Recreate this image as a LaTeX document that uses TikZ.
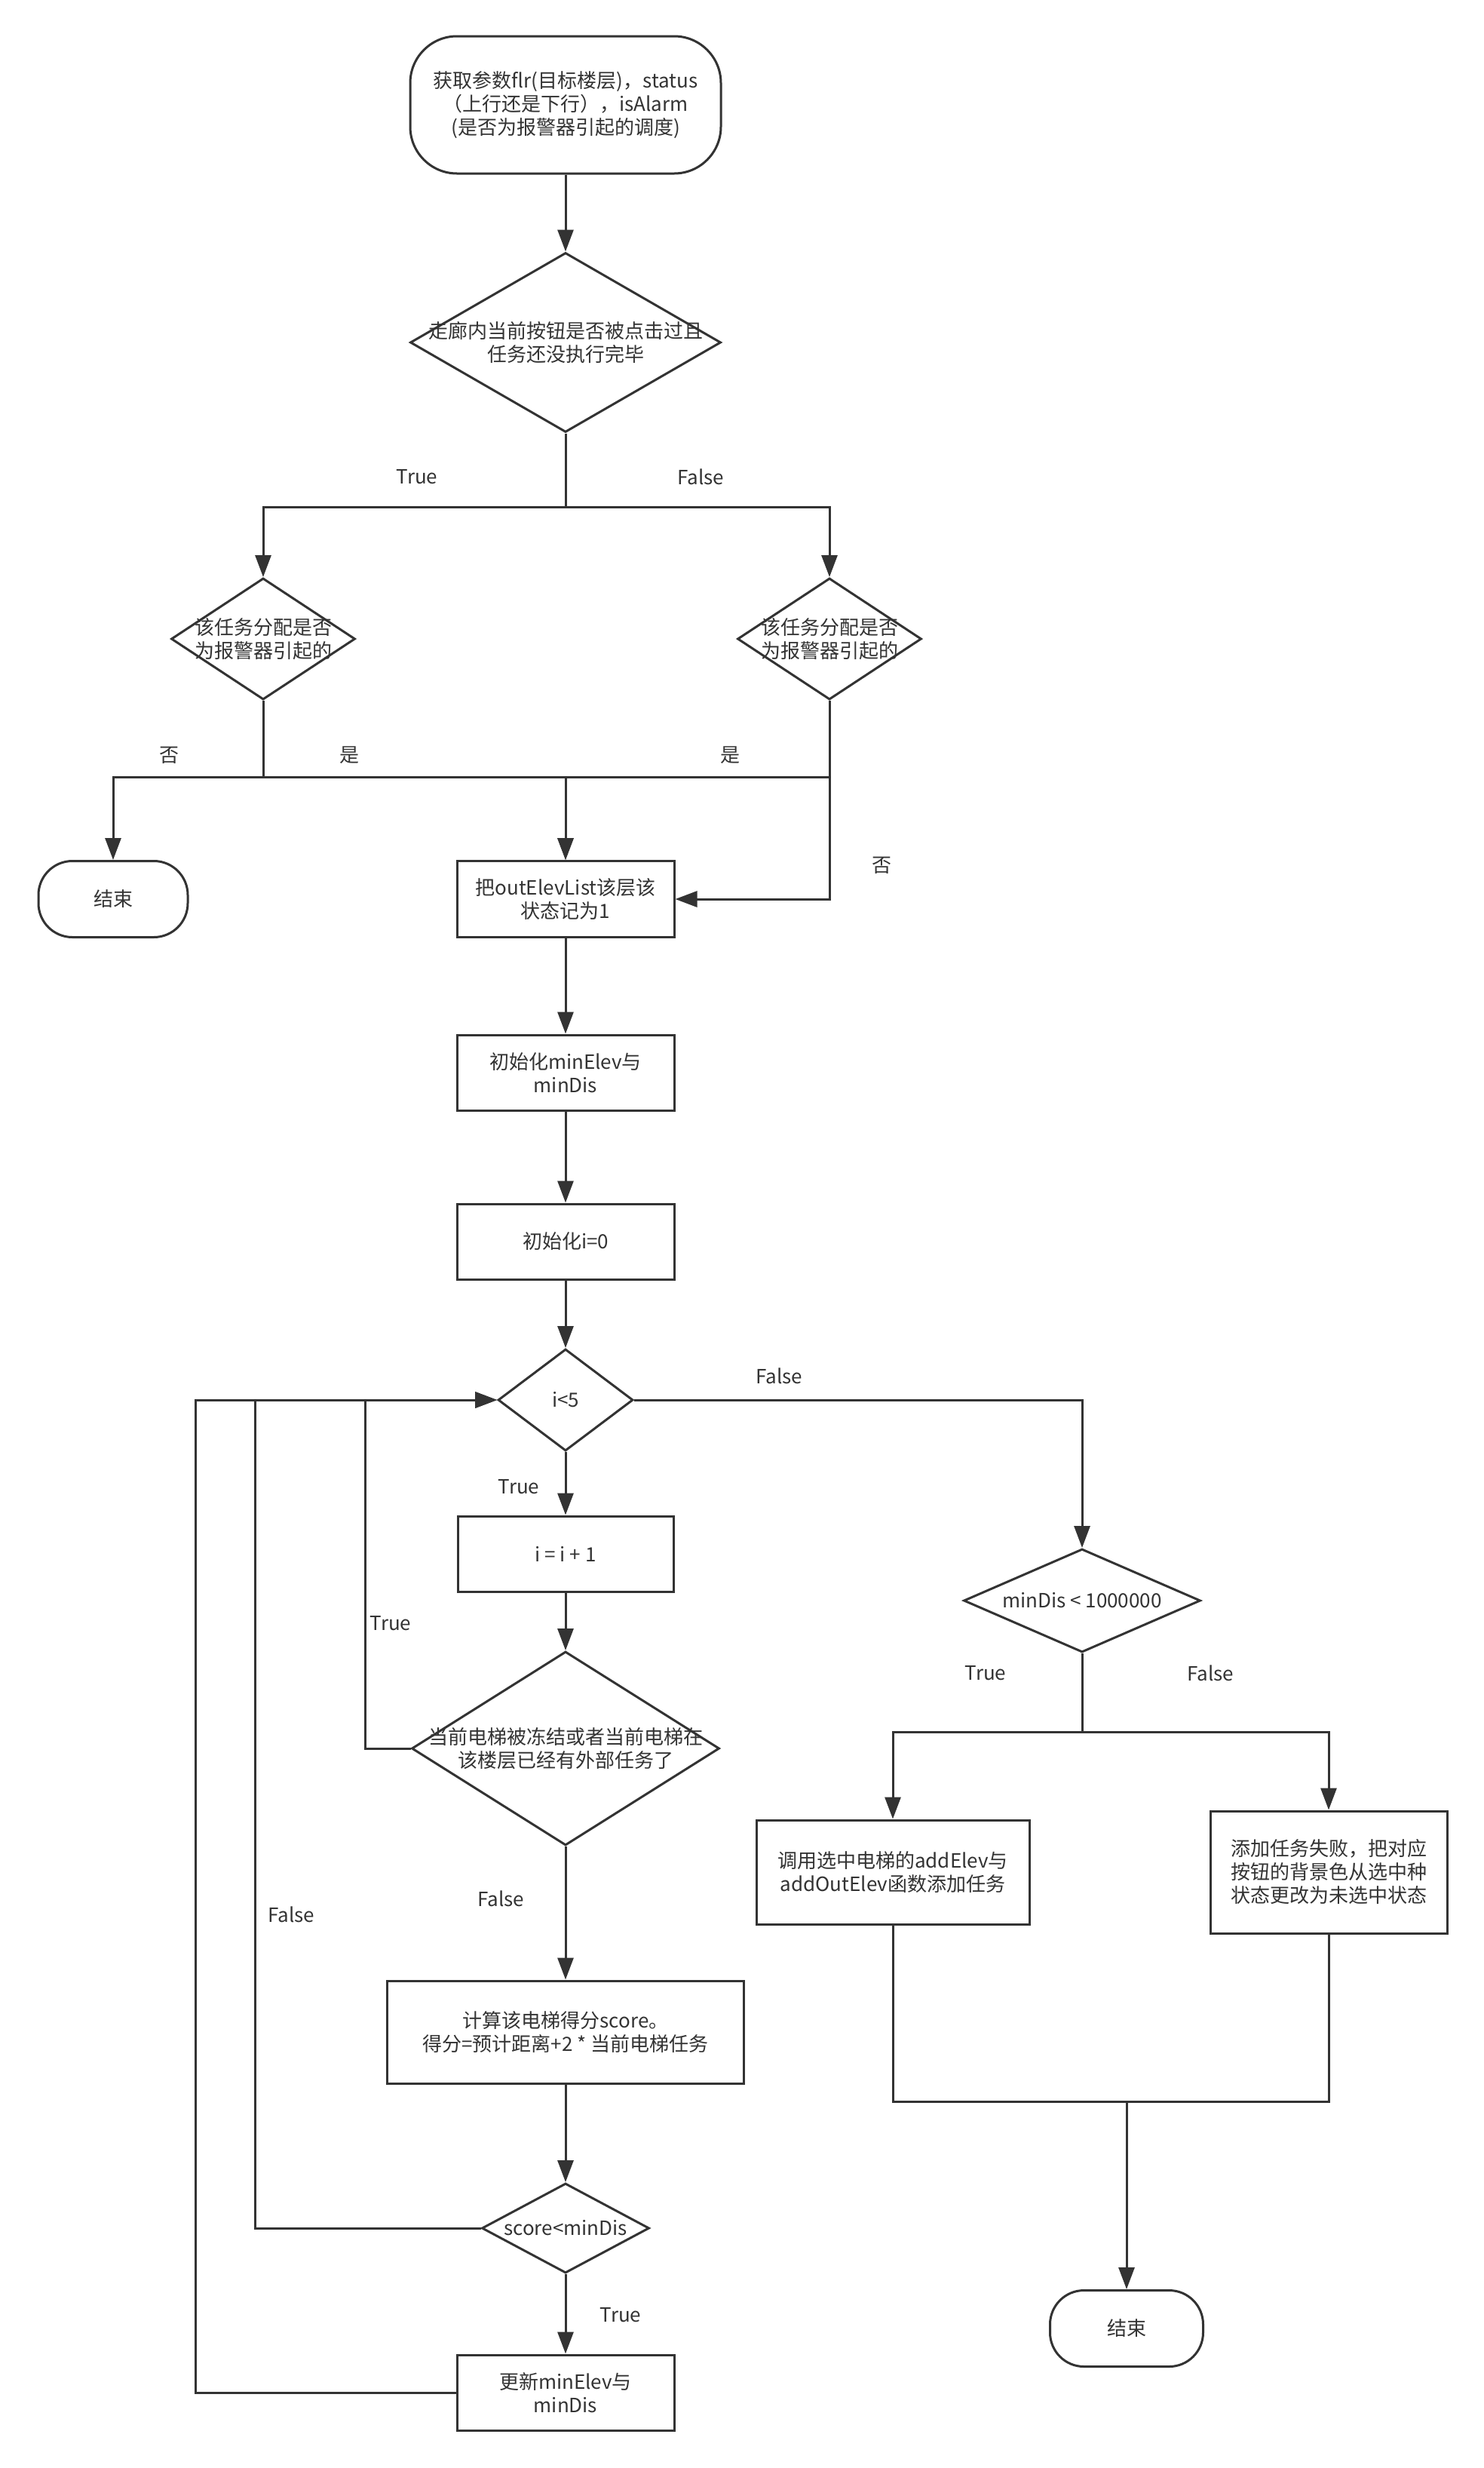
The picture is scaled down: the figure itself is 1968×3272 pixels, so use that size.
\documentclass[tikz,border=0pt]{standalone}
\usepackage{fontspec}
\newfontfamily\cjkfont{Noto Sans CJK SC}
\usepackage{xcolor}
\definecolor{lineGray}{HTML}{333333}
\usepackage{tikz}
\usetikzlibrary{shapes.geometric, arrows.meta, positioning}

\begin{document}
\begin{tikzpicture}[
        x=1pt, y=-1pt,
        >={Triangle[length=29pt, width=21pt]},
        baseNode/.style={
            draw=lineGray,
            line width=3pt,
            font=\cjkfont\fontsize{26}{31}\selectfont,
            text=lineGray,
            align=center,
            inner sep=0pt
        },
        termNode/.style={baseNode, rectangle, rounded corners=45pt},
        procNode/.style={baseNode, rectangle},
        decNode/.style={baseNode, diamond, inner sep=-150pt},
        flowArrow/.style={
            ->,
            line width=3pt,
            lineGray
        },
        flowLine/.style={
            line width=3pt,
            lineGray
        },
        labelText/.style={
            font=\cjkfont\fontsize{26}{31}\selectfont,
            text=lineGray
        }
    ]
    \fill[white] (0,0) rectangle (1968,3272);
    \useasboundingbox (0,0) rectangle (1968,3272);

    % Start and the first checks
    \node[termNode, rounded corners=62pt, minimum width=412pt, minimum height=182pt] (start) at (750,139)
        {获取参数flr(目标楼层)，status\\（上行还是下行），isAlarm\\(是否为报警器引起的调度)};
    \node[decNode, minimum width=412pt, minimum height=238pt] (checkBtn) at (750,454)
        {走廊内当前按钮是否被点击过且\\任务还没执行完毕};
    \node[decNode, minimum width=244pt, minimum height=161pt] (alarmTrue) at (349,847)
        {该任务分配是否\\为报警器引起的};
    \node[decNode, minimum width=244pt, minimum height=161pt] (alarmFalse) at (1100,847)
        {该任务分配是否\\为报警器引起的};
    \node[termNode, minimum width=198pt, minimum height=101pt] (endLeft) at (150,1192) {结束};

    % Main column
    \node[procNode, minimum width=288pt, minimum height=101pt] (markList) at (750,1192)
        {把outElevList该层该\\状态记为1};
    \node[procNode, minimum width=288pt, minimum height=100pt] (initMin) at (750,1422)
        {初始化minElev与\\minDis};
    \node[procNode, minimum width=288pt, minimum height=100pt] (initI) at (750,1646) {初始化i=0};
    \node[decNode, minimum width=179pt, minimum height=135pt] (loopCheck) at (750,1856) {i<5};
    \node[procNode, minimum width=286pt, minimum height=100pt] (incI) at (750,2060) {i = i + 1};
    \node[decNode, minimum width=408pt, minimum height=257pt] (frozenCheck) at (750,2318)
        {当前电梯被冻结或者当前电梯在\\该楼层已经有外部任务了};
    \node[procNode, minimum width=473pt, minimum height=136pt] (calcScore) at (750,2694)
        {计算该电梯得分score。\\得分=预计距离+2 * 当前电梯任务};
    \node[decNode, minimum width=222pt, minimum height=119pt] (scoreCheck) at (750,2954) {score<minDis};
    \node[procNode, minimum width=288pt, minimum height=100pt] (updateMin) at (750,3172)
        {更新minElev与\\minDis};

    % Right column
    \node[decNode, minimum width=314pt, minimum height=137pt] (disCheck) at (1435,2122) {minDis < 1000000};
    \node[procNode, minimum width=362pt, minimum height=138pt] (addTask) at (1184,2482)
        {调用选中电梯的addElev与\\addOutElev函数添加任务};
    \node[procNode, minimum width=314pt, minimum height=162pt] (failTask) at (1762,2482)
        {添加任务失败，把对应\\按钮的背景色从选中种\\状态更改为未选中状态};
    \node[termNode, minimum width=203pt, minimum height=101pt] (endRight) at (1494,3087) {结束};

    % Top branches
    \draw[flowArrow] (start) -- (checkBtn);
    \draw[flowArrow] (checkBtn.south) |- (alarmTrue.north |- 0,672) -- (alarmTrue.north);
    \draw[flowArrow] (checkBtn.south) |- (alarmFalse.north |- 0,672) -- (alarmFalse.north);
    \draw[flowArrow] (alarmTrue.south) |- (endLeft.north |- 0,1030) -- (endLeft.north);
    \draw[flowArrow] (alarmTrue.south) |- (markList.north |- 0,1030) -- (markList.north);
    \draw[flowArrow] (alarmFalse.south) |- (markList.north |- 0,1030) -- (markList.north);
    \draw[flowArrow] (alarmFalse.south) |- (markList.east);

    % Main chain
    \draw[flowArrow] (markList) -- (initMin);
    \draw[flowArrow] (initMin) -- (initI);
    \draw[flowArrow] (initI) -- (loopCheck);
    \draw[flowArrow] (loopCheck) -- (incI);
    \draw[flowArrow] (incI) -- (frozenCheck);
    \draw[flowArrow] (frozenCheck) -- (calcScore);
    \draw[flowArrow] (calcScore) -- (scoreCheck);
    \draw[flowArrow] (scoreCheck) -- (updateMin);

    % Loop back to i<5
    \draw[flowArrow] (frozenCheck.west) -| (loopCheck.west -| 484,0) -- (loopCheck.west);
    \draw[flowArrow] (scoreCheck.west) -| (loopCheck.west -| 338,0) -- (loopCheck.west);
    \draw[flowArrow] (updateMin.west) -| (loopCheck.west -| 259,0) -- (loopCheck.west);

    % Loop exit
    \draw[flowArrow] (loopCheck.east) -| (disCheck.north);
    \draw[flowArrow] (disCheck.south) |- (addTask.north |- 0,2296) -- (addTask.north);
    \draw[flowArrow] (disCheck.south) |- (failTask.north |- 0,2296) -- (failTask.north);
    \draw[flowLine] (addTask.south) |- (endRight.north |- 0,2786);
    \draw[flowArrow] (failTask.south) |- (endRight.north |- 0,2786) -- (endRight.north);

    % Branch labels
    \node[labelText] (lblTrueA) at (553,632) {True};
    \node[labelText] (lblFalseA) at (929,632) {False};
    \node[labelText] (lblNoA) at (224,1001) {否};
    \node[labelText] (lblYesA) at (463,1001) {是};
    \node[labelText] (lblYesB) at (968,1001) {是};
    \node[labelText] (lblNoB) at (1169,1147) {否};
    \node[labelText] (lblFalseB) at (1033,1824) {False};
    \node[labelText] (lblTrueB) at (688,1971) {True};
    \node[labelText] (lblTrueC) at (518,2152) {True};
    \node[labelText] (lblFalseC) at (664,2517) {False};
    \node[labelText] (lblFalseD) at (386,2538) {False};
    \node[labelText] (lblTrueD) at (823,3069) {True};
    \node[labelText] (lblTrueE) at (1307,2218) {True};
    \node[labelText] (lblFalseE) at (1605,2218) {False};
    \end{tikzpicture}
\end{document}
